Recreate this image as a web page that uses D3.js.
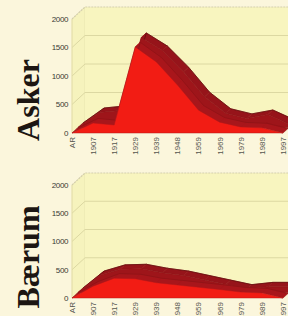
<!DOCTYPE html>
<html><head><meta charset="utf-8">
<script src="https://cdn.jsdelivr.net/npm/d3@7"></script>
<style>body{margin:0;background:#fbf6dc}svg{display:block}</style>
</head><body>
<script>
const categories = ["AR","1907","1917","1929","1939","1948","1959","1969","1979","1989","1997"];
const yTicks = [0,500,1000,1500,2000];
const askerFront = [0,175,140,1510,1245,840,400,190,105,90,0];
const askerBack  = [0,263,300,1580,1350,980,540,250,160,228,60];
const baerumFront = [0,210,350,340,270,230,190,150,105,90,0];
const baerumBack  = [0,300,410,420,350,300,220,140,60,100,100];
const titles = ["Asker","Bærum"];

const W = 288, H = 316;
const svg = d3.select("body").append("svg").attr("width", W).attr("height", H);
svg.append("rect").attr("width", W).attr("height", H).attr("fill", "#fbf6dc");

const panels = [
  {title: titles[0], front: askerFront, back: askerBack, base: 133, top: 19, titleY: 100},
  {title: titles[1], front: baerumFront, back: baerumBack, base: 298, top: 185, titleY: 257}
];
const D = [13, -12];            // full depth vector
const frontRow = [[0,0],[5,-4.6]];
const backRow = [[6,-5.5],[11,-10]];

const x = d3.scalePoint().domain(categories).range([72, 283]);

panels.forEach(p => {
  const y = d3.scaleLinear().domain([0, 2000]).range([p.base, p.top]);
  const g = svg.append("g");
  const x0 = x.range()[0], x1 = x.range()[1];
  const line = pts => "M" + pts.map(q => q.join(",")).join("L") + "Z";

  // floor
  g.append("path").attr("d", line([[x0,y(0)],[x1,y(0)],[x1+D[0],y(0)+D[1]],[x0+D[0],y(0)+D[1]]]))
    .attr("fill", "#eeeab0");
  // side wall
  g.append("path").attr("d", line([[x0,y(0)],[x0+D[0],y(0)+D[1]],[x0+D[0],y(2000)+D[1]],[x0,y(2000)]]))
    .attr("fill", "#f6f3bd").attr("stroke", "#e2dea8").attr("stroke-width", 0.6);
  // back wall
  g.append("path").attr("d", line([[x0+D[0],y(0)+D[1]],[x1+D[0]+10,y(0)+D[1]],[x1+D[0]+10,y(2000)+D[1]],[x0+D[0],y(2000)+D[1]]]))
    .attr("fill", "#f8f5bf");
  // gridlines
  yTicks.forEach(t => {
    g.append("path").attr("d", `M${x0},${y(t)}L${x0+D[0]},${y(t)+D[1]}L${x1+D[0]+10},${y(t)+D[1]}`)
      .attr("fill", "none").attr("stroke", t === 2000 ? "#d4cfae" : "#dcd8a2").attr("stroke-width", t===2000?1.2:1)
      .attr("stroke-dasharray", t === 2000 ? "2,1" : null);
  });
  g.append("line").attr("x1", x0).attr("x2", x0).attr("y1", y(0)).attr("y2", y(2000))
    .attr("stroke", "#e4e0aa").attr("stroke-width", 0.8);

  // series prism
  const drawSeries = (vals, row, roofCol, faceCol, edgeCol, faceStroke) => {
    const [o1, o2] = row;
    const P = (i, o) => [x(categories[i]) + o[0], y(vals[i]) + o[1]];
    const B = (i, o) => [x(categories[i]) + o[0], y(0) + o[1]];
    const roof = g.append("g");
    for (let i = 0; i < vals.length - 1; i++) {
      roof.append("path").attr("d", line([P(i,o1),P(i+1,o1),P(i+1,o2),P(i,o2)]))
        .attr("fill", roofCol).attr("stroke", roofCol).attr("stroke-width", 0.6).attr("stroke-linejoin","round");
    }
    const n = vals.length - 1;
    roof.append("path").attr("d", line([B(n,o1),P(n,o1),P(n,o2),B(n,o2)])).attr("fill", roofCol);
    roof.append("path").attr("d", "M" + vals.map((v,i) => P(i,o2).join(",")).join("L"))
      .attr("fill", "none").attr("stroke", edgeCol).attr("stroke-width", 0.7);
    const facePts = vals.map((v,i) => P(i,o1)).concat([B(n,o1), B(0,o1)]);
    g.append("path").attr("d", line(facePts)).attr("fill", faceCol)
      .attr("stroke", faceStroke).attr("stroke-width", 0.5).attr("stroke-linejoin","round");
  };
  drawSeries(p.back, backRow, "#96141a", "#9e151a", "#5a0a0a", "#8a1216");
  drawSeries(p.front, frontRow, "#a8161b", "#f21c14", "#8a1216", "#b0181a");

  // y axis labels
  g.selectAll(".yl").data(yTicks).enter().append("text")
    .attr("x", 68).attr("y", d => y(d)).attr("dy", "0.35em")
    .attr("text-anchor", "end").attr("font-family", "Liberation Sans, Arial, sans-serif")
    .attr("font-size", 8).attr("letter-spacing", -0.4).attr("fill", "#3a3a34").text(d => d);

  // x axis labels
  g.selectAll(".xl").data(categories).enter().append("text")
    .attr("transform", d => `translate(${x(d)},${y(0)+4}) rotate(-90)`)
    .attr("dy", "0.35em").attr("text-anchor", "end")
    .attr("font-family", "Liberation Sans, Arial, sans-serif")
    .attr("font-size", 8).attr("fill", "#55554f").text(d => d);

  // title
  svg.append("text").attr("transform", `translate(39,${p.titleY}) rotate(-90)`)
    .attr("text-anchor", "middle").attr("font-family", "Liberation Serif, Times New Roman, serif")
    .attr("font-weight", "bold").attr("font-size", 32).attr("fill", "#1c1612").text(p.title);
});
</script>
</body></html>
